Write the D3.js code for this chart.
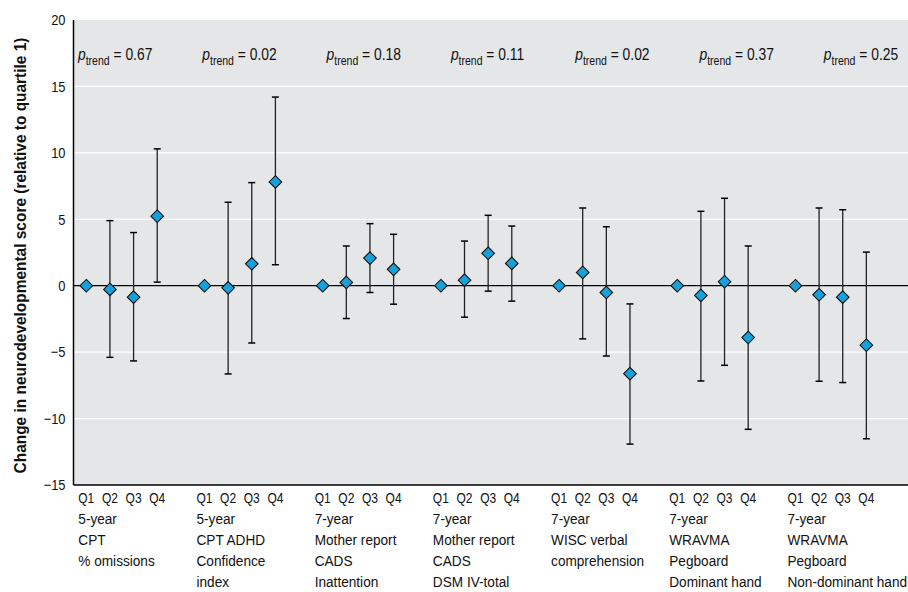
<!DOCTYPE html>
<html><head><meta charset="utf-8">
<script src="https://cdn.jsdelivr.net/npm/d3@7"></script>
<style>
body{margin:0;background:#fff;}
text{font-family:"Liberation Sans",Arial,sans-serif;}
</style></head>
<body><svg id="c" width="908" height="592"></svg>
<script>
const quartiles = ["Q1","Q2","Q3","Q4"];
const groupLabels = [
  ["5-year","CPT","% omissions"],
  ["5-year","CPT ADHD","Confidence","index"],
  ["7-year","Mother report","CADS","Inattention"],
  ["7-year","Mother report","CADS","DSM IV-total"],
  ["7-year","WISC verbal","comprehension"],
  ["7-year","WRAVMA","Pegboard","Dominant hand"],
  ["7-year","WRAVMA","Pegboard","Non-dominant hand"]
];
const pTrend = ["0.67","0.02","0.18","0.11","0.02","0.37","0.25"];
// estimates per group: Q1..Q4
const est = [
  [0,-0.28,-0.86,5.23],
  [0,-0.16,1.65,7.81],
  [0,0.25,2.08,1.23],
  [0,0.42,2.44,1.68],
  [0,1.0,-0.51,-6.62],
  [0,-0.73,0.3,-3.9],
  [0,-0.68,-0.86,-4.48]
];
const upper = [
  [null,4.9,4.0,10.3],
  [null,6.28,7.76,14.2],
  [null,2.99,4.67,3.87],
  [null,3.36,5.3,4.49],
  [null,5.85,4.44,-1.37],
  [null,5.6,6.58,2.99],
  [null,5.85,5.72,2.53]
];
const lower = [
  [null,-5.39,-5.66,0.27],
  [null,-6.64,-4.31,1.58],
  [null,-2.47,-0.51,-1.39],
  [null,-2.37,-0.41,-1.16],
  [null,-4.0,-5.29,-11.92],
  [null,-7.17,-5.99,-10.81],
  [null,-7.19,-7.29,-11.52]
];
const yTicks = [20,15,10,5,0,-5,-10,-15];

const svg = d3.select("#c");
const L=73.5, R=908, T=20, B=485;
const y = d3.scaleLinear().domain([-15,20]).range([B,T]);
const x = d3.scaleLinear().domain([0,34]).range([86.3,890]);

const pts = [];
est.forEach((g,gi)=>g.forEach((v,qi)=>pts.push({gi,qi,v,lo:lower[gi][qi],hi:upper[gi][qi],i:gi*5+qi})));

svg.append("rect").attr("x",L).attr("y",T).attr("width",R-L).attr("height",B-T).attr("fill","#e5e6e8");
// gridlines
svg.selectAll(".grid").data(yTicks.filter(t=>t!==0&&t!==20&&t!==-15)).enter().append("line")
  .attr("x1",L).attr("x2",R).attr("y1",d=>y(d)).attr("y2",d=>y(d))
  .attr("stroke","#fff").attr("stroke-width",1.3);
// zero line
svg.append("line").attr("x1",L).attr("x2",R).attr("y1",y(0)).attr("y2",y(0)).attr("stroke","#000").attr("stroke-width",1.2);

// y axis
const SX = 0.86;
const yAxis = d3.axisLeft(y).tickValues(yTicks).tickSize(0).tickPadding(8)
  .tickFormat(d=>d<0?"\u2212"+Math.abs(d):d);
const ga = svg.append("g").attr("transform",`translate(${L},0)`).call(yAxis);
ga.select(".domain").remove();
ga.selectAll("text").attr("font-size",15).attr("fill","#111")
  .style("font-family",'"Liberation Sans",Arial,sans-serif')
  .attr("x",-8/SX).attr("transform",`scale(${SX},1)`);
svg.append("line").attr("x1",L).attr("x2",L).attr("y1",T).attr("y2",B).attr("stroke","#000").attr("stroke-width",1.5);
svg.append("line").attr("x1",L).attr("x2",R).attr("y1",B).attr("y2",B).attr("stroke","#000").attr("stroke-width",1.5);

// y label
const yl = svg.append("text")
  .attr("text-anchor","middle").attr("font-size",17).attr("font-weight","bold").attr("fill","#111")
  .text("Change in neurodevelopmental score (relative to quartile 1)");
const natural = yl.node().getComputedTextLength();
yl.attr("transform",`translate(26,${(T+B)/2+3}) rotate(-90) scale(${436/natural},1)`);

// error bars
const eb = pts.filter(d=>d.hi!==null);
svg.selectAll(".eb").data(eb).enter().append("line")
  .attr("x1",d=>x(d.i)).attr("x2",d=>x(d.i)).attr("y1",d=>y(d.hi)).attr("y2",d=>y(d.lo))
  .attr("stroke","#222").attr("stroke-width",1.3);
["hi","lo"].forEach(k=>{
  svg.selectAll(".cap"+k).data(eb).enter().append("line")
    .attr("x1",d=>x(d.i)-3.5).attr("x2",d=>x(d.i)+3.5).attr("y1",d=>y(d[k])).attr("y2",d=>y(d[k]))
    .attr("stroke","#000").attr("stroke-width",1.5);
});
// diamonds
svg.selectAll(".dm").data(pts).enter().append("path")
  .attr("d",d=>{const cx=x(d.i), cy=y(d.v), r=6.3;return `M${cx},${cy-r}L${cx+r},${cy}L${cx},${cy+r}L${cx-r},${cy}Z`;})
  .attr("fill","#14a2dc").attr("stroke","#111").attr("stroke-width",1.1);

// quartile labels
svg.selectAll(".ql").data(pts).enter().append("text")
  .attr("transform",d=>`translate(${x(d.i)},503) scale(0.8,1)`).attr("text-anchor","middle")
  .attr("font-size",15).attr("fill","#111")
  .text(d=>quartiles[d.qi]);
// group labels
groupLabels.forEach((lines,gi)=>{
  const gx = x(gi*5)-8;
  const t = svg.append("text").attr("transform",`translate(${gx},0) scale(0.94,1)`)
    .attr("font-size",14.5).attr("fill","#111");
  lines.forEach((ln,li)=>t.append("tspan").attr("x",0).attr("y",524+li*21).text(ln));
});
// p trend
pTrend.forEach((p,gi)=>{
  const t = svg.append("text").attr("transform",`translate(${78+gi*124.3},60) scale(0.84,1)`)
    .attr("font-size",16.5).attr("fill","#111");
  t.append("tspan").attr("font-style","italic").text("p");
  t.append("tspan").attr("font-size",12.5).attr("dy",5).text("trend");
  t.append("tspan").attr("dy",-5).text(" = "+p);
});
</script></body></html>
